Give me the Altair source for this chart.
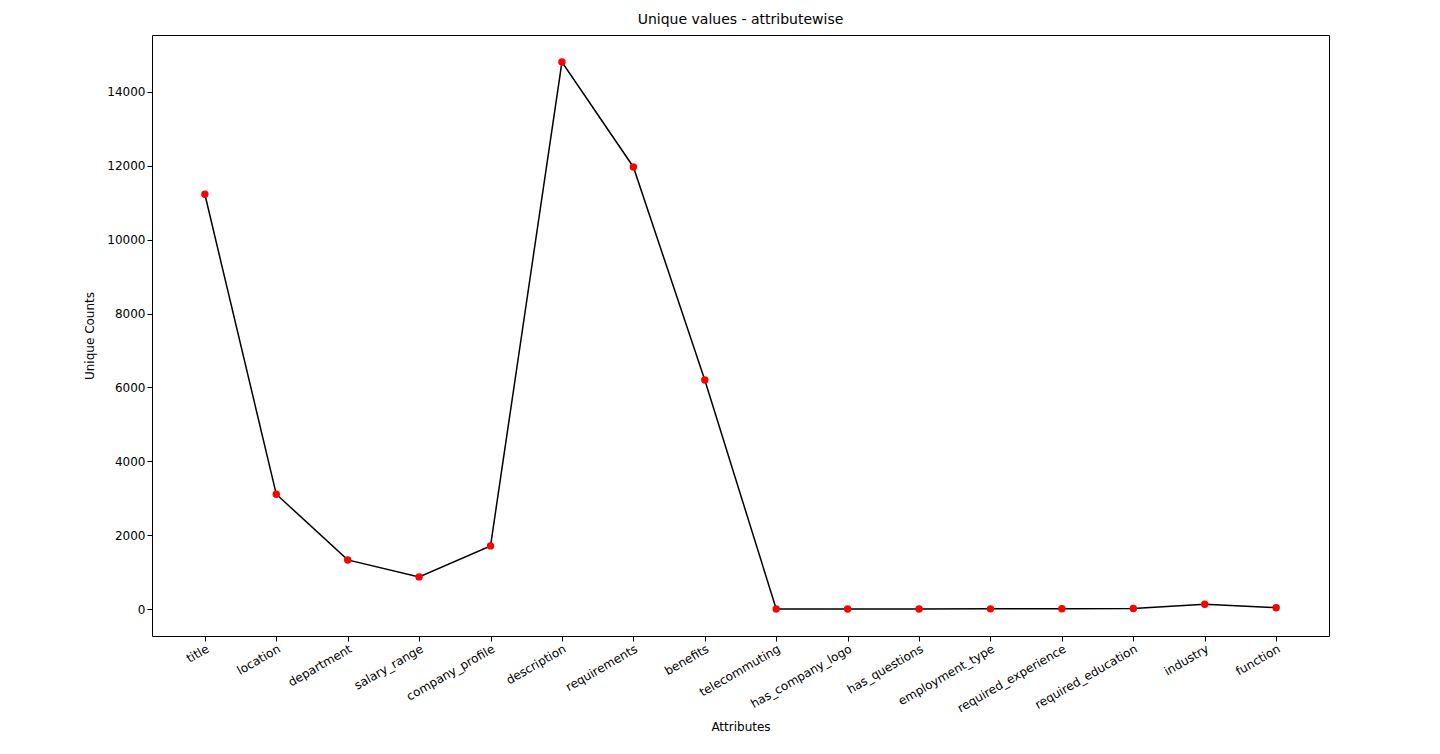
import altair as alt
import pandas as pd

attributes = [
    "title", "location", "department", "salary_range", "company_profile",
    "description", "requirements", "benefits", "telecommuting",
    "has_company_logo", "has_questions", "employment_type",
    "required_experience", "required_education", "industry", "function",
]
unique_counts = [11230, 3110, 1330, 870, 1710, 14810, 11970, 6200,
                 2, 2, 2, 5, 7, 13, 131, 37]

df = pd.DataFrame({"Attribute": attributes, "Count": unique_counts})

font = "DejaVu Sans"
x_enc = alt.X(
    "Attribute:N", sort=attributes, title="Attributes",
    scale=alt.Scale(type="point", padding=0.74),
    axis=alt.Axis(labelAngle=330, labelAlign="right", labelBaseline="top",
                  labelFontSize=12, titleFontSize=12, titleFontWeight="normal",
                  labelColor="black", titleColor="black", tickColor="black",
                  domain=False, labelFont=font, titleFont=font, titlePadding=8),
)
y_enc = alt.Y(
    "Count:Q", title="Unique Counts",
    scale=alt.Scale(domain=[-730, 15543], nice=False, zero=False),
    axis=alt.Axis(values=list(range(0, 15000, 2000)), format="d", grid=False,
                  domain=False, labelFontSize=12, titleFontSize=12,
                  titleFontWeight="normal", labelColor="black", titleColor="black",
                  tickColor="black", labelFont=font, titleFont=font, titlePadding=10),
)

base = alt.Chart(df).encode(x=x_enc, y=y_enc)
line = base.mark_line(color="black", strokeWidth=1.5)
points = base.mark_circle(color="red", size=55, opacity=1)

chart = (
    (line + points)
    .properties(
        width=1177, height=601,
        title=alt.TitleParams("Unique values - attributewise", fontSize=14,
                              fontWeight="normal", font=font, color="black", offset=8),
        autosize=alt.AutoSizeParams(type="none"),
        padding={"left": 144, "top": 27, "right": 100, "bottom": 100},
    )
    .configure_view(stroke="black", strokeWidth=1)
)

chart.save("out.html", embed_options={"renderer": "svg", "actions": False})
